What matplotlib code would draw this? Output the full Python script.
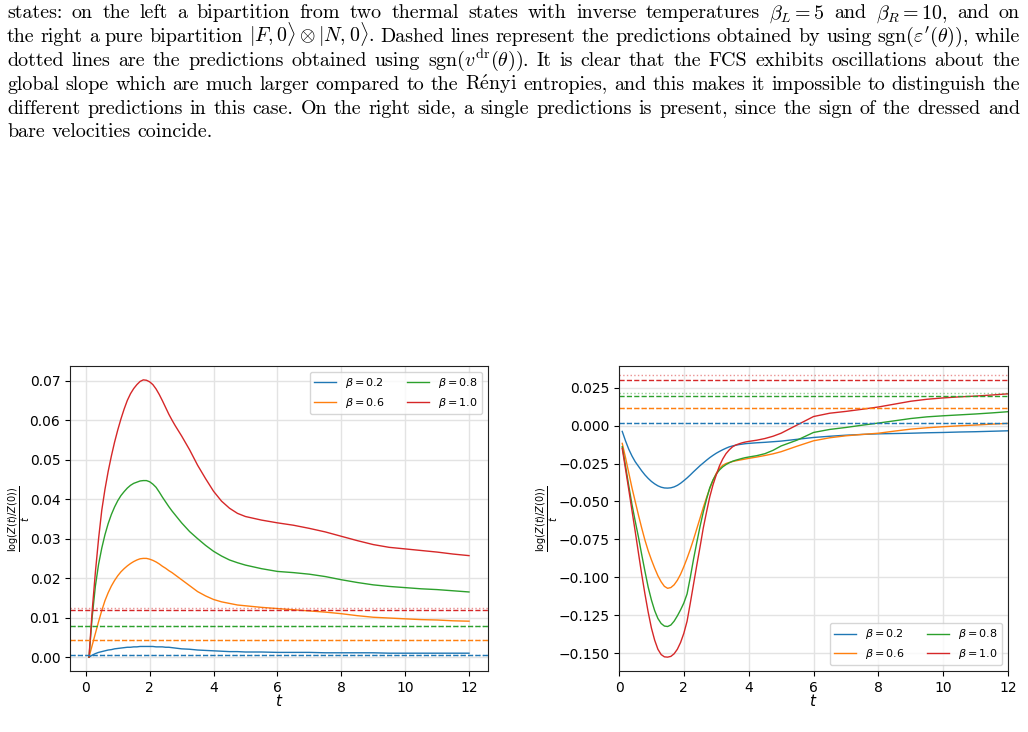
import numpy as np
import matplotlib.pyplot as plt

W, H = 1028, 732

# ---------------- caption text (justified lines) ----------------
caption_lines = [
    r"states: on the left a bipartition from two thermal states with inverse temperatures $\beta_L=5$ and $\beta_R=10$, and on",
    r"the right a pure bipartition $|F,0\rangle\otimes|N,0\rangle$. Dashed lines represent the predictions obtained by using sgn($\varepsilon'(\theta)$), while",
    r"dotted lines are the predictions obtained using sgn($v^{\mathrm{dr}}(\theta)$). It is clear that the FCS exhibits oscillations about the",
    r"global slope which are much larger compared to the R$\acute{\mathrm{e}}$nyi entropies, and this makes it impossible to distinguish the",
    "different predictions in this case. On the right side, a single predictions is present, since the sign of the dressed and",
    "bare velocities coincide.",
]
caption_baselines = [18.3, 42.0, 65.8, 89.8, 113.6, 137.4]

# ---------------- left panel: thermal bipartition ----------------
t_left = np.round(np.r_[np.arange(0.1, 3.01, 0.1), np.arange(3.25, 5.01, 0.25), np.arange(5.5, 12.01, 0.5)], 2)
left_b02 = [0.0, 0.0005, 0.0009, 0.0012, 0.0014, 0.0016, 0.0018, 0.0019, 0.0021, 0.0022,
            0.0023, 0.0024, 0.0025, 0.0025, 0.0026, 0.0026, 0.0027, 0.0027, 0.0027, 0.0027,
            0.0027, 0.0026, 0.0026, 0.0026, 0.0025, 0.0025, 0.0024, 0.0023, 0.0022, 0.0021,
            0.0020, 0.0018, 0.0017, 0.0016, 0.0015, 0.0014, 0.0014, 0.0013,
            0.0013, 0.0012, 0.0012, 0.0012, 0.0011, 0.0011, 0.0011, 0.0011, 0.0010, 0.0010,
            0.0010, 0.0010, 0.0010, 0.0010]
left_b06 = [0.0, 0.0030, 0.0060, 0.0090, 0.0118, 0.0143, 0.0163, 0.0180, 0.0194, 0.0206,
            0.0216, 0.0224, 0.0231, 0.0237, 0.0242, 0.0246, 0.0249, 0.0250, 0.0250, 0.0248,
            0.0245, 0.0241, 0.0236, 0.0230, 0.0225, 0.0219, 0.0214, 0.0208, 0.0202, 0.0196,
            0.0181, 0.0166, 0.0155, 0.0146, 0.0140, 0.0136, 0.0132, 0.0130,
            0.0126, 0.0123, 0.0120, 0.0117, 0.0114, 0.0110, 0.0105, 0.0101, 0.0099, 0.0097,
            0.0095, 0.0094, 0.0092, 0.0091]
left_b08 = [0.0, 0.0102, 0.0180, 0.0235, 0.0276, 0.0310, 0.0338, 0.0361, 0.0380, 0.0396,
            0.0409, 0.0419, 0.0428, 0.0435, 0.0440, 0.0443, 0.0446, 0.0447, 0.0447, 0.0444,
            0.0438, 0.0430, 0.0418, 0.0405, 0.0393, 0.0381, 0.0370, 0.0360, 0.0350, 0.0340,
            0.0318, 0.0300, 0.0283, 0.0268, 0.0256, 0.0246, 0.0239, 0.0233,
            0.0224, 0.0217, 0.0214, 0.0210, 0.0204, 0.0196, 0.0189, 0.0183, 0.0179, 0.0176,
            0.0173, 0.0171, 0.0168, 0.0165]
left_b10 = [0.0, 0.0118, 0.0215, 0.0300, 0.0372, 0.0425, 0.0470, 0.0509, 0.0544, 0.0575,
            0.0603, 0.0628, 0.0650, 0.0667, 0.0680, 0.0690, 0.0698, 0.0702, 0.0701, 0.0697,
            0.0690, 0.0679, 0.0665, 0.0649, 0.0632, 0.0615, 0.0600, 0.0586, 0.0573, 0.0560,
            0.0525, 0.0486, 0.0452, 0.0420, 0.0395, 0.0377, 0.0364, 0.0356,
            0.0347, 0.0340, 0.0334, 0.0326, 0.0317, 0.0306, 0.0295, 0.0285, 0.0278, 0.0274,
            0.0270, 0.0266, 0.0261, 0.0257]
left_dashed = [0.0005, 0.0044, 0.0078, 0.0120]
left_dotted = [0.0005, 0.0044, 0.0079, 0.0124]

# ---------------- right panel: pure bipartition ----------------
t_right = np.round(np.r_[np.arange(0.1, 4.01, 0.1), np.arange(4.25, 5.01, 0.25), np.arange(5.5, 12.01, 0.5)], 2)
right_b02 = [-0.0038, -0.0100, -0.0155, -0.0200, -0.0238, -0.0268, -0.0298, -0.0325, -0.0348, -0.0368,
             -0.0384, -0.0397, -0.0406, -0.0411, -0.0412, -0.0410, -0.0404, -0.0394, -0.0380, -0.0363,
             -0.0345, -0.0325, -0.0304, -0.0284, -0.0264, -0.0246, -0.0228, -0.0211, -0.0196, -0.0182,
             -0.0170, -0.0159, -0.0149, -0.0140, -0.0134, -0.0129, -0.0125, -0.0122, -0.0119, -0.0117,
             -0.0113, -0.0110, -0.0106, -0.0102,
             -0.0090, -0.0078, -0.0070, -0.0063, -0.0058, -0.0054, -0.0052, -0.0050, -0.0047, -0.0045,
             -0.0042, -0.0040, -0.0037, -0.0034]
right_b06 = [-0.0117, -0.0210, -0.0310, -0.0410, -0.0500, -0.0590, -0.0675, -0.0755, -0.0825, -0.0885,
             -0.0940, -0.0990, -0.1030, -0.1060, -0.1073, -0.1068, -0.1050, -0.1020, -0.0980, -0.0930,
             -0.0875, -0.0815, -0.0750, -0.0680, -0.0610, -0.0540, -0.0475, -0.0415, -0.0360, -0.0315,
             -0.0282, -0.0262, -0.0250, -0.0243, -0.0237, -0.0232, -0.0228, -0.0224, -0.0220, -0.0216,
             -0.0207, -0.0197, -0.0186, -0.0172,
             -0.0135, -0.0100, -0.0080, -0.0067, -0.0058, -0.0050, -0.0036, -0.0023, -0.0014, -0.0007,
             -0.0001, 0.0004, 0.0010, 0.0015]
right_b08 = [-0.0139, -0.0265, -0.0395, -0.0520, -0.0630, -0.0735, -0.0850, -0.0960, -0.1065, -0.1150,
             -0.1220, -0.1272, -0.1305, -0.1322, -0.1325, -0.1315, -0.1290, -0.1255, -0.1215, -0.1170,
             -0.1110, -0.1000, -0.0880, -0.0770, -0.0665, -0.0570, -0.0485, -0.0410, -0.0358, -0.0320,
             -0.0292, -0.0272, -0.0257, -0.0245, -0.0235, -0.0228, -0.0222, -0.0216, -0.0211, -0.0207,
             -0.0198, -0.0185, -0.0163, -0.0134,
             -0.0095, -0.0045, -0.0025, -0.0012, 0.0003, 0.0017, 0.0032, 0.0047, 0.0058, 0.0065,
             0.0071, 0.0077, 0.0084, 0.0092]
right_b10 = [-0.0150, -0.0285, -0.0420, -0.0560, -0.0698, -0.0840, -0.0980, -0.1110, -0.1230, -0.1335,
             -0.1415, -0.1475, -0.1510, -0.1525, -0.1527, -0.1522, -0.1505, -0.1475, -0.1430, -0.1370,
             -0.1290, -0.1170, -0.1045, -0.0920, -0.0800, -0.0675, -0.0570, -0.0470, -0.0390, -0.0325,
             -0.0265, -0.0220, -0.0185, -0.0160, -0.0140, -0.0128, -0.0120, -0.0113, -0.0108, -0.0104,
             -0.0096, -0.0085, -0.0070, -0.0050,
             0.0005, 0.0060, 0.0082, 0.0094, 0.0108, 0.0123, 0.0142, 0.0161, 0.0174, 0.0183,
             0.0190, 0.0195, 0.0202, 0.0210]
right_dashed = [0.0015, 0.0118, 0.0197, 0.0302]
right_dotted = [0.0015, 0.0118, 0.0215, 0.0331]

beta_labels = [r'$\beta = 0.2$', r'$\beta = 0.6$', r'$\beta = 0.8$', r'$\beta = 1.0$']
colors = ['C0', 'C1', 'C2', 'C3']

fig = plt.figure(figsize=(W / 100, H / 100), dpi=100)
renderer = fig.canvas.get_renderer()

# -------------------------- caption, justified by hand --------------------------
x_left, x_right = 7, 1020
for i, line in enumerate(caption_lines):
    words = line.split(' ')
    y = 1 - caption_baselines[i] / H
    txts = [fig.text(0, y, w, fontsize=14.4, family=['cmr10', 'DejaVu Serif'],
                     math_fontfamily='cm', va='baseline') for w in words]
    widths = [t.get_window_extent(renderer).width for t in txts]
    if i < len(caption_lines) - 1:
        gap = (x_right - x_left - sum(widths)) / (len(words) - 1)
    else:
        gap = 6.7
    x = x_left
    for t, w in zip(txts, widths):
        t.set_x(x / W)
        x += w + gap

# -------------------------- plots --------------------------
axL = fig.add_axes([70 / W, 61 / H, 418 / W, 305 / H])
axR = fig.add_axes([619 / W, 61 / H, 389 / W, 305 / H])

for vals, c, lab in zip([left_b02, left_b06, left_b08, left_b10], colors, beta_labels):
    axL.plot(t_left, vals, color=c, lw=1, label=lab)
for v, c in zip(left_dashed, colors):
    axL.axhline(v, color=c, ls='--', lw=1)
for v, c in zip(left_dotted, colors):
    axL.axhline(v, color=c, ls=':', lw=1, alpha=0.5)

for vals, c, lab in zip([right_b02, right_b06, right_b08, right_b10], colors, beta_labels):
    axR.plot(t_right, vals, color=c, lw=1, label=lab)
for v, c in zip(right_dashed, colors):
    axR.axhline(v, color=c, ls='--', lw=1)
for v, c in zip(right_dotted, colors):
    axR.axhline(v, color=c, ls=':', lw=1, alpha=0.5)
axR.set_xlim(0, 12)

ylab = r'$\frac{\log(Z(t)/Z(0))}{t}$'
for ax, lx, loc in [(axL, -0.092, 'upper right'), (axR, -0.152, 'lower right')]:
    ax.set_xticks([0, 2, 4, 6, 8, 10, 12])
    ax.grid(True, color='#e3e3e3', lw=1)
    ax.tick_params(labelsize=10)
    ax.set_xlabel(r'$t$', fontsize=11, labelpad=-1)
    ax.set_ylabel(ylab, fontsize=10)
    ax.yaxis.set_label_coords(lx, 0.5)
    for s in ax.spines.values():
        s.set_color('#222222')
    ax.legend(loc=loc, ncol=2, fontsize=8)

fig.savefig('out.png', dpi=100)
